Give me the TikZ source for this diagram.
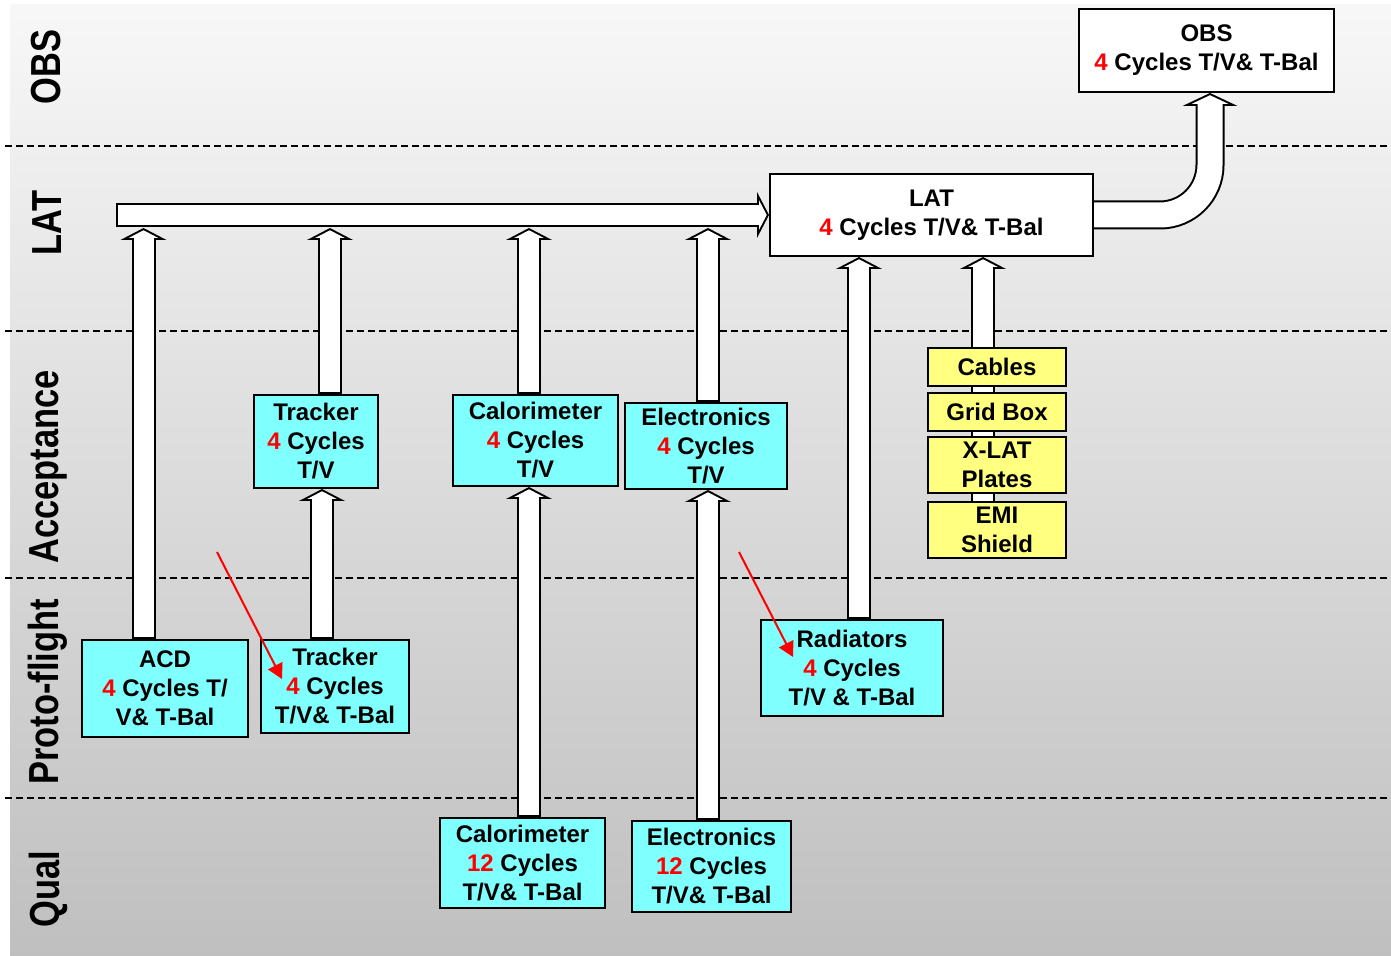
\documentclass[tikz,border=0pt]{standalone}
\usepackage{fontspec}
\setmainfont{Liberation Sans}
\newfontfamily\narrowsans[FakeStretch=0.82]{Liberation Sans}
\usepackage{xcolor}
\usetikzlibrary{arrows.meta,calc}
\definecolor{boxcyan}{RGB}{128,255,255}
\definecolor{boxyellow}{RGB}{255,255,128}
\definecolor{cycred}{RGB}{255,0,0}
\newcommand{\cyc}[1]{\textcolor{cycred}{#1}}
\pgfdeclarelayer{shade}
\pgfdeclarelayer{back}
\pgfsetlayers{shade,back,main}

\begin{document}
\begin{tikzpicture}[x=0.5pt,y=-0.5pt,font=\bfseries\fontsize{12}{14.5}\selectfont,
  box/.style={draw,line width=1pt,align=center,inner sep=0pt},
  cyanbox/.style={box,fill=boxcyan},
  yellowbox/.style={box,fill=boxyellow,minimum width=69pt},
  whitebox/.style={box,fill=white},
  side/.style={font=\narrowsans\bfseries\fontsize{21}{21}\selectfont,rotate=90},
  fatarr/.style={line width=12pt,-{Triangle[length=6pt,width=23pt,line width=0pt]},
    postaction={draw=white,line width=10pt,shorten <=1pt,shorten >=1.13pt,
      -{Triangle[length=3.87pt,width=14.8pt,line width=0pt]}}},
  bendarr/.style={line width=14.5pt,-{Triangle[length=6.5pt,width=27.5pt,line width=0pt]},
    postaction={draw=white,line width=12.5pt,shorten >=1.12pt,
      -{Triangle[length=4.35pt,width=18.4pt,line width=0pt]}}},
  redarr/.style={cycred,line width=1pt,-{Triangle[length=7.5pt,width=8pt]}}]
\useasboundingbox (0,0) rectangle (1391,956);
\begin{pgfonlayer}{shade}
\shade[top color=black!3,bottom color=black!25] (10,5) rectangle (1391,956);
\foreach \y in {146,331,578,798}
  \draw[line width=1pt,dash pattern=on 3.5pt off 2pt] (5,\y) -- (1391,\y);
\end{pgfonlayer}

\node[side] (lobs) at (46,67) {OBS};
\node[side] (llat) at (47,223) {LAT};
\node[side] (lacc) at (48,467) {Acceptance};
\node[side] (lpf) at (48,692) {Proto-flight};
\node[side] (lqual) at (48,889) {Qual};

\node[whitebox,minimum width=127.5pt,minimum height=41.5pt] (obs) at (1206.5,50.5) {OBS\\\cyc{4} Cycles T/V\& T-Bal};
\node[whitebox,minimum width=161.5pt,minimum height=41pt] (lat) at (931.5,215) {LAT\\\cyc{4} Cycles T/V\& T-Bal};

\node[cyanbox,minimum width=62pt,minimum height=46.5pt] (trkacc) at (316,441.5) {Tracker\\\cyc{4} Cycles\\T/V};
\node[cyanbox,minimum width=82.5pt,minimum height=45.5pt] (calacc) at (535.5,440.5) {Calorimeter\\\cyc{4} Cycles\\T/V};
\node[cyanbox,minimum width=81pt,minimum height=43pt] (elecacc) at (706,446) {Electronics\\\cyc{4} Cycles\\T/V};

\node[yellowbox,minimum height=19pt] (cables) at (997,367) {Cables};
\node[yellowbox,minimum height=19pt] (gridbox) at (997,412) {Grid Box};
\node[yellowbox,minimum height=28pt] (xlat) at (997,465) {X-LAT\\Plates};
\node[yellowbox,minimum height=28pt] (emi) at (997,530) {EMI\\Shield};

\node[cyanbox,minimum width=83pt,minimum height=48.5pt] (acd) at (165,688.5) {ACD\\\cyc{4} Cycles T/\\V\& T-Bal};
\node[cyanbox,minimum width=74pt,minimum height=46.5pt] (trkpf) at (335,686.5) {Tracker\\\cyc{4} Cycles\\T/V\& T-Bal};
\node[cyanbox,minimum width=91pt,minimum height=48pt] (rad) at (852,668) {Radiators\\\cyc{4} Cycles\\T/V \& T-Bal};

\node[cyanbox,minimum width=82.5pt,minimum height=45pt] (calq) at (522.5,863) {Calorimeter\\\cyc{12} Cycles\\T/V\& T-Bal};
\node[cyanbox,minimum width=79.5pt,minimum height=45.5pt] (elecq) at (711.5,866.5) {Electronics\\\cyc{12} Cycles\\T/V\& T-Bal};

\coordinate (bus) at (116,215);
\coordinate (j1) at (143.5,228);
\coordinate (j2) at (330,228);
\coordinate (j3) at (529,228);
\coordinate (j4) at (708,228);

\begin{pgfonlayer}{back}
\draw[fatarr] (acd.north -| j1) -- (j1);
\draw[fatarr] (trkacc.north -| j2) -- (j2);
\draw[fatarr] (calacc.north -| j3) -- (j3);
\draw[fatarr] (elecacc.north -| j4) -- (j4);
\draw[fatarr] (bus) -- (lat.west);
\draw[fatarr] ([xshift=-6.5pt]trkpf.north) -- ([xshift=-6.5pt]trkpf.north |- trkacc.south);
\draw[fatarr] ([xshift=3.25pt]calq.north) -- ([xshift=3.25pt]calq.north |- calacc.south);
\draw[fatarr] ([xshift=-1.75pt]elecq.north) -- ([xshift=-1.75pt]elecq.north |- elecacc.south);
\draw[fatarr] ([xshift=3.5pt]rad.north) -- ([xshift=3.5pt]rad.north |- lat.south);
\draw[fatarr] ([xshift=-7pt]emi.center) -- ([xshift=-7pt]emi.center |- lat.south);
\draw[bendarr,rounded corners=25pt] (lat.east) -| ([xshift=1.75pt]obs.south);
\end{pgfonlayer}

\coordinate (r1s) at (217,552);
\coordinate (r1e) at (282,679);
\coordinate (r2s) at (739,552);
\coordinate (r2e) at (793,657);
\draw[redarr] (r1s) -- (r1e);
\draw[redarr] (r2s) -- (r2e);
\end{tikzpicture}
\end{document}
